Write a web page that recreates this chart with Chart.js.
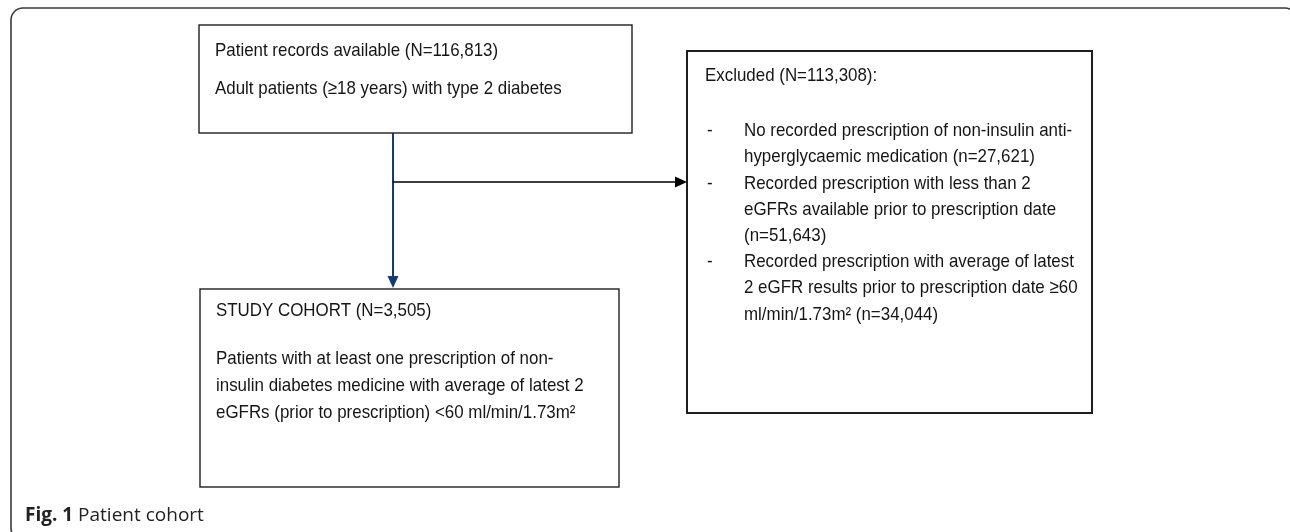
<!DOCTYPE html>
<html>
<head>
<meta charset="utf-8">
<script src="https://cdn.jsdelivr.net/npm/chart.js@4"></script>
<style>
  html, body { margin: 0; padding: 0; background: #fff; }
  #wrap { width: 1290px; height: 532px; }
</style>
</head>
<body>
<div id="wrap"><canvas id="c" width="1290" height="532"></canvas></div>
<script>
// ---- data ----
const totalRecords = 116813;
const excludedTotal = 113308;
const cohortTotal = 3505;
const excludedCounts = [27621, 51643, 34044];
const fmt = n => n.toLocaleString('en-US');

const sourceLines = [
  `Patient records available (N=${fmt(totalRecords)})`,
  'Adult patients (\u226518 years) with type 2 diabetes'
];
const excludedTitle = `Excluded (N=${fmt(excludedTotal)}):`;
const excludedItems = [
  ['No recorded prescription of non-insulin anti-', `hyperglycaemic medication (n=${fmt(excludedCounts[0])})`],
  ['Recorded prescription with less than 2', 'eGFRs available prior to prescription date', `(n=${fmt(excludedCounts[1])})`],
  ['Recorded prescription with average of latest', '2 eGFR results prior to prescription date \u226560', `ml/min/1.73m\u00b2 (n=${fmt(excludedCounts[2])})`]
];
const cohortTitle = `STUDY COHORT (N=${fmt(cohortTotal)})`;
const cohortLines = [
  'Patients with at least one prescription of non-',
  'insulin diabetes medicine with average of latest 2',
  'eGFRs (prior to prescription) <60 ml/min/1.73m\u00b2'
];
const captionBold = 'Fig. 1';
const captionText = 'Patient cohort';

// ---- layout (in chart units, drawn through the scales) ----
const layout = {
  frame: { x0: 11, y0: 8, x1: 1297, y1: 540, r: 12 },
  source: { x0: 199, y0: 25, x1: 632, y1: 133, tx: 215, ty: [51, 89] },
  excluded: { x0: 687, y0: 51, x1: 1092, y1: 413, tx: 705, titleY: 76, dashX: 707, itemX: 744, firstY: 131, step: 26.2 },
  cohort: { x0: 200, y0: 289, x1: 619, y1: 487, tx: 216, titleY: 311, firstY: 359, step: 27 },
  vline: { x: 393, y0: 133, y1: 288 },
  hline: { y: 182, x0: 393, x1: 687 },
  caption: { x: 25, y: 521 }
};

const FONT = '"Liberation Sans", Arial, sans-serif';

const flowPlugin = {
  id: 'flow',
  afterDraw(chart) {
    const ctx = chart.ctx;
    const sx = chart.scales.x, sy = chart.scales.y;
    const X = v => sx.getPixelForValue(v);
    const Y = v => sy.getPixelForValue(v);
    ctx.save();

    // outer frame
    const f = layout.frame;
    ctx.strokeStyle = '#3a3a3a';
    ctx.lineWidth = 1.6;
    ctx.beginPath();
    ctx.roundRect(X(f.x0), Y(f.y0), X(f.x1) - X(f.x0), Y(f.y1) - Y(f.y0), f.r);
    ctx.stroke();

    // boxes
    const box = (b, lw) => {
      ctx.strokeStyle = '#1e1e1e';
      ctx.lineWidth = lw;
      ctx.strokeRect(X(b.x0), Y(b.y0), X(b.x1) - X(b.x0), Y(b.y1) - Y(b.y0));
    };
    box(layout.source, 1.4);
    box(layout.excluded, 2);
    box(layout.cohort, 1.4);

    // connectors
    const v = layout.vline;
    ctx.strokeStyle = '#123a78';
    ctx.fillStyle = '#123a78';
    ctx.lineWidth = 2;
    ctx.beginPath();
    ctx.moveTo(X(v.x), Y(v.y0));
    ctx.lineTo(X(v.x), Y(v.y1) - 10);
    ctx.stroke();
    ctx.beginPath();
    ctx.moveTo(X(v.x) - 5.5, Y(v.y1) - 12);
    ctx.lineTo(X(v.x) + 5.5, Y(v.y1) - 12);
    ctx.lineTo(X(v.x), Y(v.y1));
    ctx.closePath();
    ctx.fill();

    const h = layout.hline;
    ctx.strokeStyle = '#000';
    ctx.fillStyle = '#000';
    ctx.lineWidth = 1.6;
    ctx.beginPath();
    ctx.moveTo(X(h.x0), Y(h.y));
    ctx.lineTo(X(h.x1) - 10, Y(h.y));
    ctx.stroke();
    ctx.beginPath();
    ctx.moveTo(X(h.x1) - 12, Y(h.y) - 5.5);
    ctx.lineTo(X(h.x1) - 12, Y(h.y) + 5.5);
    ctx.lineTo(X(h.x1), Y(h.y));
    ctx.closePath();
    ctx.fill();

    // text
    ctx.fillStyle = '#151515';
    ctx.textBaseline = 'middle';
    ctx.textAlign = 'left';
    const text = (s, x, y) => {
      ctx.save();
      ctx.font = '19px ' + FONT;
      ctx.translate(X(x), Y(y));
      ctx.scale(0.89, 1);
      ctx.fillText(s, 0, 0);
      ctx.restore();
    };
    const s = layout.source;
    sourceLines.forEach((l, i) => text(l, s.tx, s.ty[i]));

    const e = layout.excluded;
    text(excludedTitle, e.tx, e.titleY);
    let row = 0;
    excludedItems.forEach(item => {
      text('-', e.dashX, e.firstY + row * e.step);
      item.forEach(l => { text(l, e.itemX, e.firstY + row * e.step); row++; });
    });

    const c = layout.cohort;
    text(cohortTitle, c.tx, c.titleY);
    cohortLines.forEach((l, i) => text(l, c.tx, c.firstY + i * c.step));

    // caption
    const cap = layout.caption;
    ctx.textBaseline = 'alphabetic';
    ctx.fillStyle = '#222';
    ctx.font = 'bold 19px "Open Sans", "Noto Sans", sans-serif';
    ctx.fillText(captionBold, X(cap.x), Y(cap.y));
    const w = ctx.measureText(captionBold + ' ').width;
    ctx.font = '19px "Open Sans", "Noto Sans", sans-serif';
    ctx.fillText(captionText, X(cap.x) + w, Y(cap.y));
    ctx.restore();
  }
};

new Chart(document.getElementById('c'), {
  type: 'scatter',
  data: { datasets: [{ data: [], showLine: false }] },
  options: {
    responsive: false,
    animation: false,
    devicePixelRatio: 1,
    layout: { padding: 0 },
    plugins: { legend: { display: false }, tooltip: { enabled: false } },
    scales: {
      x: { type: 'linear', min: 0, max: 1290, display: false },
      y: { type: 'linear', min: 0, max: 532, reverse: true, display: false }
    }
  },
  plugins: [flowPlugin]
});
</script>
</body>
</html>
